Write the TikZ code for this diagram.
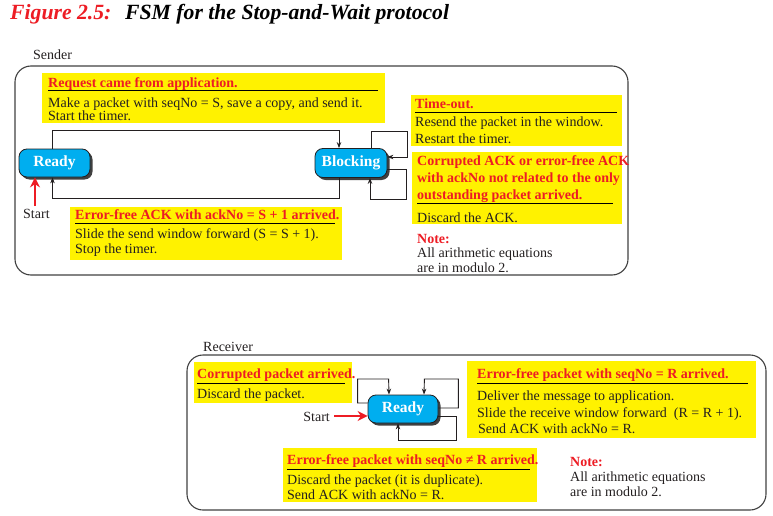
\documentclass[tikz,border=0pt]{standalone}
\usepackage{fontspec}
\setmainfont{Liberation Serif}
\usetikzlibrary{arrows.meta,shadows,calc}
\definecolor{rd}{HTML}{ED1C24}
\definecolor{dk}{HTML}{231F20}
\definecolor{yel}{HTML}{FFF200}
\definecolor{cy}{HTML}{00AEEF}
\newcommand\myfs{\fontsize{14}{15}\selectfont}
\newcommand\mystf{\fontsize{15.5}{17}\selectfont}
\newcommand\myttf{\fontsize{21.7}{24}\selectfont}
\begin{document}
\begin{tikzpicture}[x=1pt,y=-1pt,
 ybox/.style={fill=yel, draw=none, inner sep=0, anchor=north west},
 txt/.style={anchor=base west, inner sep=0, font=\myfs, text=dk},
 ttl/.style={anchor=base west, inner sep=0, font=\myfs\bfseries, text=rd},
 state/.style={rounded corners=8pt, fill=cy, draw=dk, line width=0.8pt, text=white, font=\mystf\bfseries, minimum width=71pt, minimum height=28pt, inner sep=0, drop shadow={shadow xshift=2.5pt, shadow yshift=-2.5pt, fill=black!75, opacity=1}},
 arr/.style={draw=dk, line width=0.9pt, -{Stealth[length=6pt,width=4.5pt]}},
 startarr/.style={draw=rd, line width=2.8pt, -{Stealth[length=10pt,width=10pt]}},
 frame/.style={draw=black!75, line width=1.1pt, rounded corners=16pt},
 rule/.style={draw=black, line width=1pt}]
\useasboundingbox (0,0) rectangle (773,516);
% title
\node[anchor=base west, inner sep=0, font=\myttf\bfseries\itshape, text=rd] (fig) at (10,20) {Figure 2.5:};
\node[anchor=base west, inner sep=0, font=\myttf\bfseries\itshape, text=black] (fsm) at (125,20) {FSM for the Stop-and-Wait protocol};
% ---------------- Sender ----------------
\node[txt] (sl) at (33,60) {Sender};
\draw[frame] (15,66) rectangle (628,275);
% yellow boxes
\node[ybox, minimum width=343pt, minimum height=50pt] (yreq) at (42,73) {};
\node[ybox, minimum width=211pt, minimum height=51pt] (yto) at (411,95) {};
\node[ybox, minimum width=210pt, minimum height=72pt] (ycor) at (412,152) {};
\node[ybox, minimum width=272pt, minimum height=53pt] (yack) at (70,207) {};
% request
\node[ttl] (rq1) at (48,88) {Request came from application.};
\draw[rule] (48,91) -- (378,91);
\node[txt] (rq2) at (48,107) {Make a packet with seqNo = S, save a copy, and send it.};
\node[txt] (rq3) at (48,121) {Start the timer.};
% time-out
\node[ttl] (to1) at (415,109) {Time-out.};
\draw[rule] (415,113) -- (617,113);
\node[txt] (to2) at (415,127) {Resend the packet in the window.};
\node[txt] (to3) at (415,143) {Restart the timer.};
% corrupted ack
\node[ttl] (ca1) at (417,165) {Corrupted ACK or error-free ACK};
\node[ttl] (ca2) at (417,182) {with ackNo not related to the only};
\node[ttl] (ca3) at (417,199) {outstanding packet arrived.};
\draw[rule] (417,203) -- (613,203);
\node[txt] (ca4) at (417,222) {Discard the ACK.};
% note
\node[ttl] (sn1) at (417,243) {Note:};
\node[txt] (sn2) at (417,257) {All arithmetic equations};
\node[txt] (sn3) at (417,272) {are in modulo 2.};
% ack
\node[ttl] (ak1) at (75,219) {Error-free ACK with ackNo = S + 1 arrived.};
\draw[rule] (75,223) -- (335,223);
\node[txt] (ak2) at (75,238) {Slide the send window forward (S = S + 1).};
\node[txt] (ak3) at (75,253) {Stop the timer.};
% states
\node[state] (rdy) at (54.5,163) {Ready};
\node[state, minimum width=72pt, minimum height=29pt] (blk) at (351,163) {Blocking};
% connectors
\draw[arr] ([xshift=-2pt]rdy.north) -- ++(0,-18) -| ([xshift=-12pt]blk.north);
\draw[arr] ([xshift=-12pt]blk.south) -- ++(0,21) -| ([xshift=-2pt]rdy.south);
\draw[arr] ([xshift=20pt]blk.north) |- ++(36,-17) |- ([yshift=6pt]blk.east);
\draw[arr] ([yshift=-6pt]blk.east) -| ++(19,30) -| ([xshift=19pt]blk.south);
% start
\coordinate (st1) at (35,206);
\draw[startarr] (st1) -- (st1 |- rdy.south);
\node[txt] (stl) at (23,218) {Start};
% ---------------- Receiver ----------------
\node[txt] (rl) at (203,351) {Receiver};
\draw[frame] (187,355) rectangle (766,510);
\node[ybox, minimum width=158pt, minimum height=41pt] (ycp) at (194,362) {};
\node[ybox, minimum width=289pt, minimum height=77pt] (yok) at (467,361) {};
\node[ybox, minimum width=254pt, minimum height=54pt] (ydup) at (283,448) {};
% corrupted packet
\node[ttl] (cp1) at (197,378) {Corrupted packet arrived.};
\draw[rule] (197,383) -- (345,383);
\node[txt] (cp2) at (197,398) {Discard the packet.};
% ok packet
\node[ttl] (ok1) at (477,378) {Error-free packet with seqNo = R arrived.};
\draw[rule] (477,383) -- (748,383);
\node[txt] (ok2) at (477,400) {Deliver the message to application.};
\node[txt] (ok3) at (477,417) {Slide the receive window forward\ \ (R = R + 1).};
\node[txt] (ok4) at (478,433) {Send ACK with ackNo = R.};
% duplicate
\node[ttl] (dp1) at (287,464) {Error-free packet with seqNo ≠ R arrived.};
\draw[rule] (287,469) -- (530,469);
\node[txt] (dp2) at (287,484) {Discard the packet (it is duplicate).};
\node[txt] (dp3) at (287,499) {Send ACK with ackNo = R.};
% note
\node[ttl] (rn1) at (570,466) {Note:};
\node[txt] (rn2) at (570,481) {All arithmetic equations};
\node[txt] (rn3) at (570,496) {are in modulo 2.};
% state
\node[state, minimum width=70pt] (rr) at (403,409) {Ready};
\draw[arr] ([yshift=6pt]rr.west) -- ++(-10,0) |- ++(31,-24) -- ([xshift=-14pt]rr.north);
\draw[arr] ([yshift=1pt]rr.east) -- ++(20,0) |- ++(-34,-29) -- ([xshift=21pt]rr.north);
\draw[arr] ([yshift=-7pt]rr.east) -| ++(18,24) -| ([xshift=-5pt]rr.south);
\coordinate (st2) at (334,416);
\draw[startarr] (st2) -- (st2 -| rr.west);
\node[txt, anchor=base east] (stl2) at (330,421) {Start};
\end{tikzpicture}
\end{document}
